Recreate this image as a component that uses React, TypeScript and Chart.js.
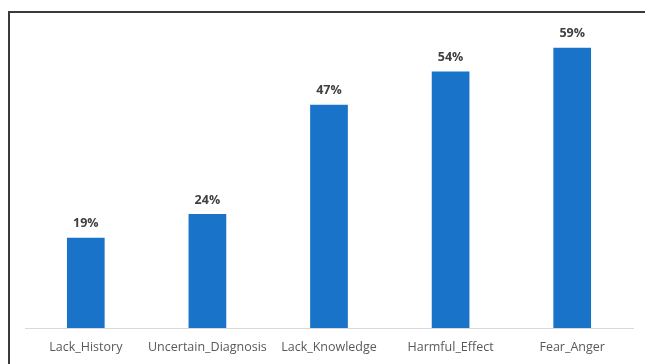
import React, { useEffect, useRef } from "react";
import { Chart, registerables } from "chart.js";

Chart.register(...registerables);

const categories = ["Lack_History", "Uncertain_Diagnosis", "Lack_Knowledge", "Harmful_Effect", "Fear_Anger"];
const percentValues = [19, 24, 47, 54, 59];
const valueLabels = ["19%", "24%", "47%", "54%", "59%"];

const FONT = "'Open Sans', 'Noto Sans', sans-serif";

const labelPlugin = {
  id: "barLabels",
  afterDatasetsDraw(chart: any) {
    const ctx = chart.ctx;
    const meta = chart.getDatasetMeta(0);
    ctx.save();
    ctx.font = `bold 12.5px ${FONT}`;
    ctx.fillStyle = "#404040";
    ctx.textAlign = "center";
    ctx.textBaseline = "middle";
    meta.data.forEach((bar: any, i: number) => {
      ctx.fillText(valueLabels[i], bar.x, bar.y - 14);
    });
    ctx.restore();
  },
};

export default function App() {
  const ref = useRef<HTMLCanvasElement | null>(null);
  useEffect(() => {
    if (!ref.current) return;
    const chart = new Chart(ref.current, {
      type: "bar",
      data: {
        labels: categories,
        datasets: [
          {
            data: percentValues,
            backgroundColor: "#1873C9",
            borderWidth: 0,
            barPercentage: 1,
            categoryPercentage: 0.31,
          },
        ],
      },
      options: {
        animation: false,
        responsive: false,
        maintainAspectRatio: false,
        layout: { padding: { left: 25, right: 12, top: 43, bottom: 0 } },
        plugins: { legend: { display: false }, tooltip: { enabled: false } },
        scales: {
          x: {
            afterFit: (s: any) => {
              s.height = 36;
            },
            grid: { display: false, drawTicks: false },
            border: { display: true, color: "#d9d9d9", width: 1 },
            ticks: {
              color: "#595959",
              font: { family: FONT, size: 12.5 },
              padding: 12,
              maxRotation: 0,
              autoSkip: false,
            },
          },
          y: {
            display: false,
            min: 0,
            max: 60,
          },
        },
      },
      plugins: [labelPlugin],
    });
    return () => chart.destroy();
  }, []);
  return (
    <div style={{ position: "fixed", left: 0, top: 0, width: 645, height: 364, background: "#fff", overflow: "hidden" }}>
      <div
        style={{
          position: "absolute",
          left: 8,
          top: 11,
          width: 700,
          height: 400,
          borderLeft: "2px solid #3a3a3a",
          borderTop: "2px solid #3a3a3a",
        }}
      />
      <canvas ref={ref} width={645} height={364} style={{ position: "absolute", left: 0, top: 0 }} />
    </div>
  );
}
